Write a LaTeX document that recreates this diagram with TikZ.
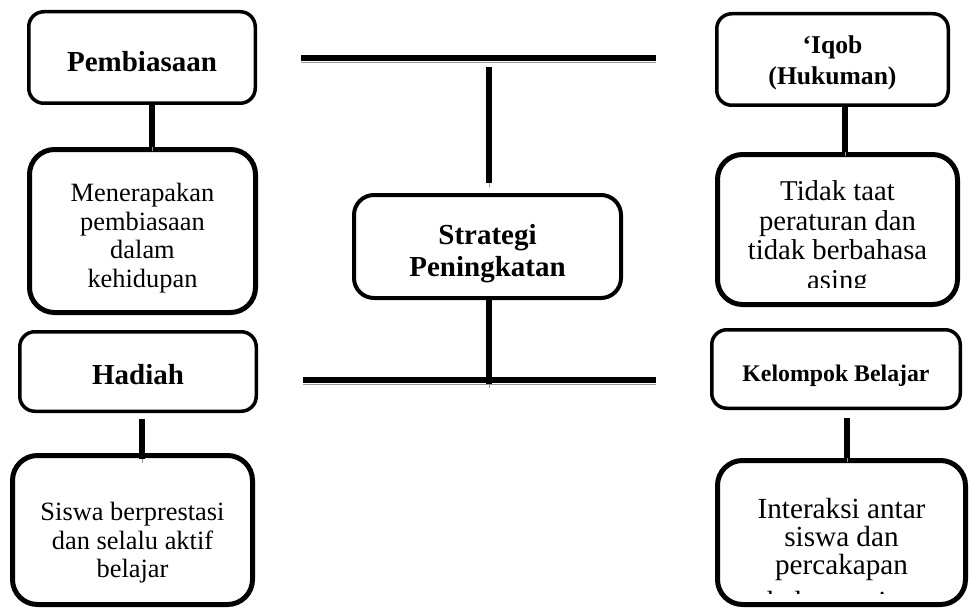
\documentclass[tikz,border=0pt]{standalone}
\usepackage{fontspec}
\setmainfont{Liberation Serif}
\usetikzlibrary{calc}
\definecolor{abu}{RGB}{150,150,150}

\tikzset{
  kotakJudul/.style={draw, rounded corners=15pt, line width=3.5pt, inner sep=0pt},
  kotakIsi/.style={draw, rounded corners=25pt, line width=5pt, inner sep=0pt},
  teksJudul/.style={align=center, inner sep=0pt, font=\fontsize{29}{32}\selectfont\bfseries},
  teksIsi/.style={align=center, inner sep=0pt, font=\fontsize{26.4}{28.5}\selectfont},
  garis/.style={line width=5.5pt, preaction={draw=abu, transform canvas={yshift=-4pt}}},
}

\begin{document}
\begin{tikzpicture}[x=1pt,y=-1pt]
\useasboundingbox (0,0) rectangle (970,610);

% kolom kiri
\node[kotakJudul, minimum width=226.5, minimum height=91.5] (pembiasaan) at (142,57.5) {};
\node[teksJudul] (pembiasaanTeks) at ($(pembiasaan)+(0,4)$) {Pembiasaan};
\node[kotakIsi, minimum width=226, minimum height=163] (menerapkan) at (142.5,231) {};
\node[teksIsi] (menerapkanTeks) at ($(menerapkan)+(0,7)$)
  {Menerapakan\\pembiasaan\\dalam\\kehidupan};
\node[kotakJudul, minimum width=236.5, minimum height=79.5] (hadiah) at (138,371.5) {};
\node[teksJudul] (hadiahTeks) at ($(hadiah)+(0,3)$) {Hadiah};
\node[kotakIsi, minimum width=240, minimum height=149] (siswa) at (132.5,530) {};
\node[teksIsi] (siswaTeks) at ($(siswa)+(0,13)$)
  {Siswa berprestasi\\dan selalu aktif\\belajar};

% tengah
\node[kotakJudul, rounded corners=20pt, line width=4pt, minimum width=267, minimum height=103]
  (strategi) at (487.5,246.5) {};
\node[teksJudul] (strategiTeks) at ($(strategi)+(0,7)$) {Strategi\\Peningkatan};

% kolom kanan
\node[kotakJudul, minimum width=231.5, minimum height=91.5] (iqob) at (832.5,59.5) {};
\node[teksJudul, font=\fontsize{25.6}{31}\selectfont\bfseries] (iqobTeks) at ($(iqob)+(0,3)$)
  {`Iqob\\(Hukuman)};
\begin{scope}
  \clip (712,150) rectangle (962,287);
  \node[teksIsi, font=\fontsize{28.7}{29.7}\selectfont] (tidakTeks) at (837.5,238)
    {Tidak taat\\peraturan dan\\tidak berbahasa\\asing};
\end{scope}
\node[kotakIsi, minimum width=240, minimum height=150] (tidak) at (837.5,229.5) {};
\node[kotakJudul, minimum width=248.5, minimum height=78.5] (kelompok) at (836,369) {};
\node[teksJudul, font=\fontsize{23.8}{28}\selectfont\bfseries] (kelompokTeks) at ($(kelompok)+(0,7)$)
  {Kelompok Belajar};
\begin{scope}
  \clip (712,455) rectangle (968,593);
  \node[teksIsi, font=\fontsize{29.2}{28.3}\selectfont] (interaksiTeks) at (841.5,558)
    {Interaksi antar\\siswa dan\\percakapan\\[9pt]bahasa asing};
\end{scope}
\node[kotakIsi, minimum width=248, minimum height=144] (interaksi) at (841.5,532.5) {};

% garis penghubung
\coordinate (atasKiri) at (301,58);
\coordinate (atasKanan) at (656,58);
\coordinate (atasTengah) at (489,67);
\coordinate (bawahKiri) at (303,380);
\coordinate (bawahKanan) at (656,380);
\coordinate (bawahTengah) at (489,384);

\draw[garis] ($(pembiasaan.south)+(10,0)$) coordinate (p1) -- (p1 |- menerapkan.north);
\draw[garis] ($(hadiah.south)+(4,6)$) coordinate (h1) -- ($(h1 |- siswa.north)+(0,6)$);
\draw[garis] ($(iqob.south)+(12.5,0)$) coordinate (i1) -- (i1 |- tidak.north);
\draw[garis] ($(kelompok.south)+(11,8)$) coordinate (k1) -- (k1 |- interaksi.north);

\draw[garis, line width=6pt] (atasKiri) -- (atasKanan);
\draw[garis] (atasTengah) -- ($(strategi.north)+(1.5,-10)$);
\draw[garis] (strategi.south -| bawahTengah) -- (bawahTengah);
\draw[garis, line width=6pt] (bawahKiri) -- (bawahKanan);
\end{tikzpicture}
\end{document}
